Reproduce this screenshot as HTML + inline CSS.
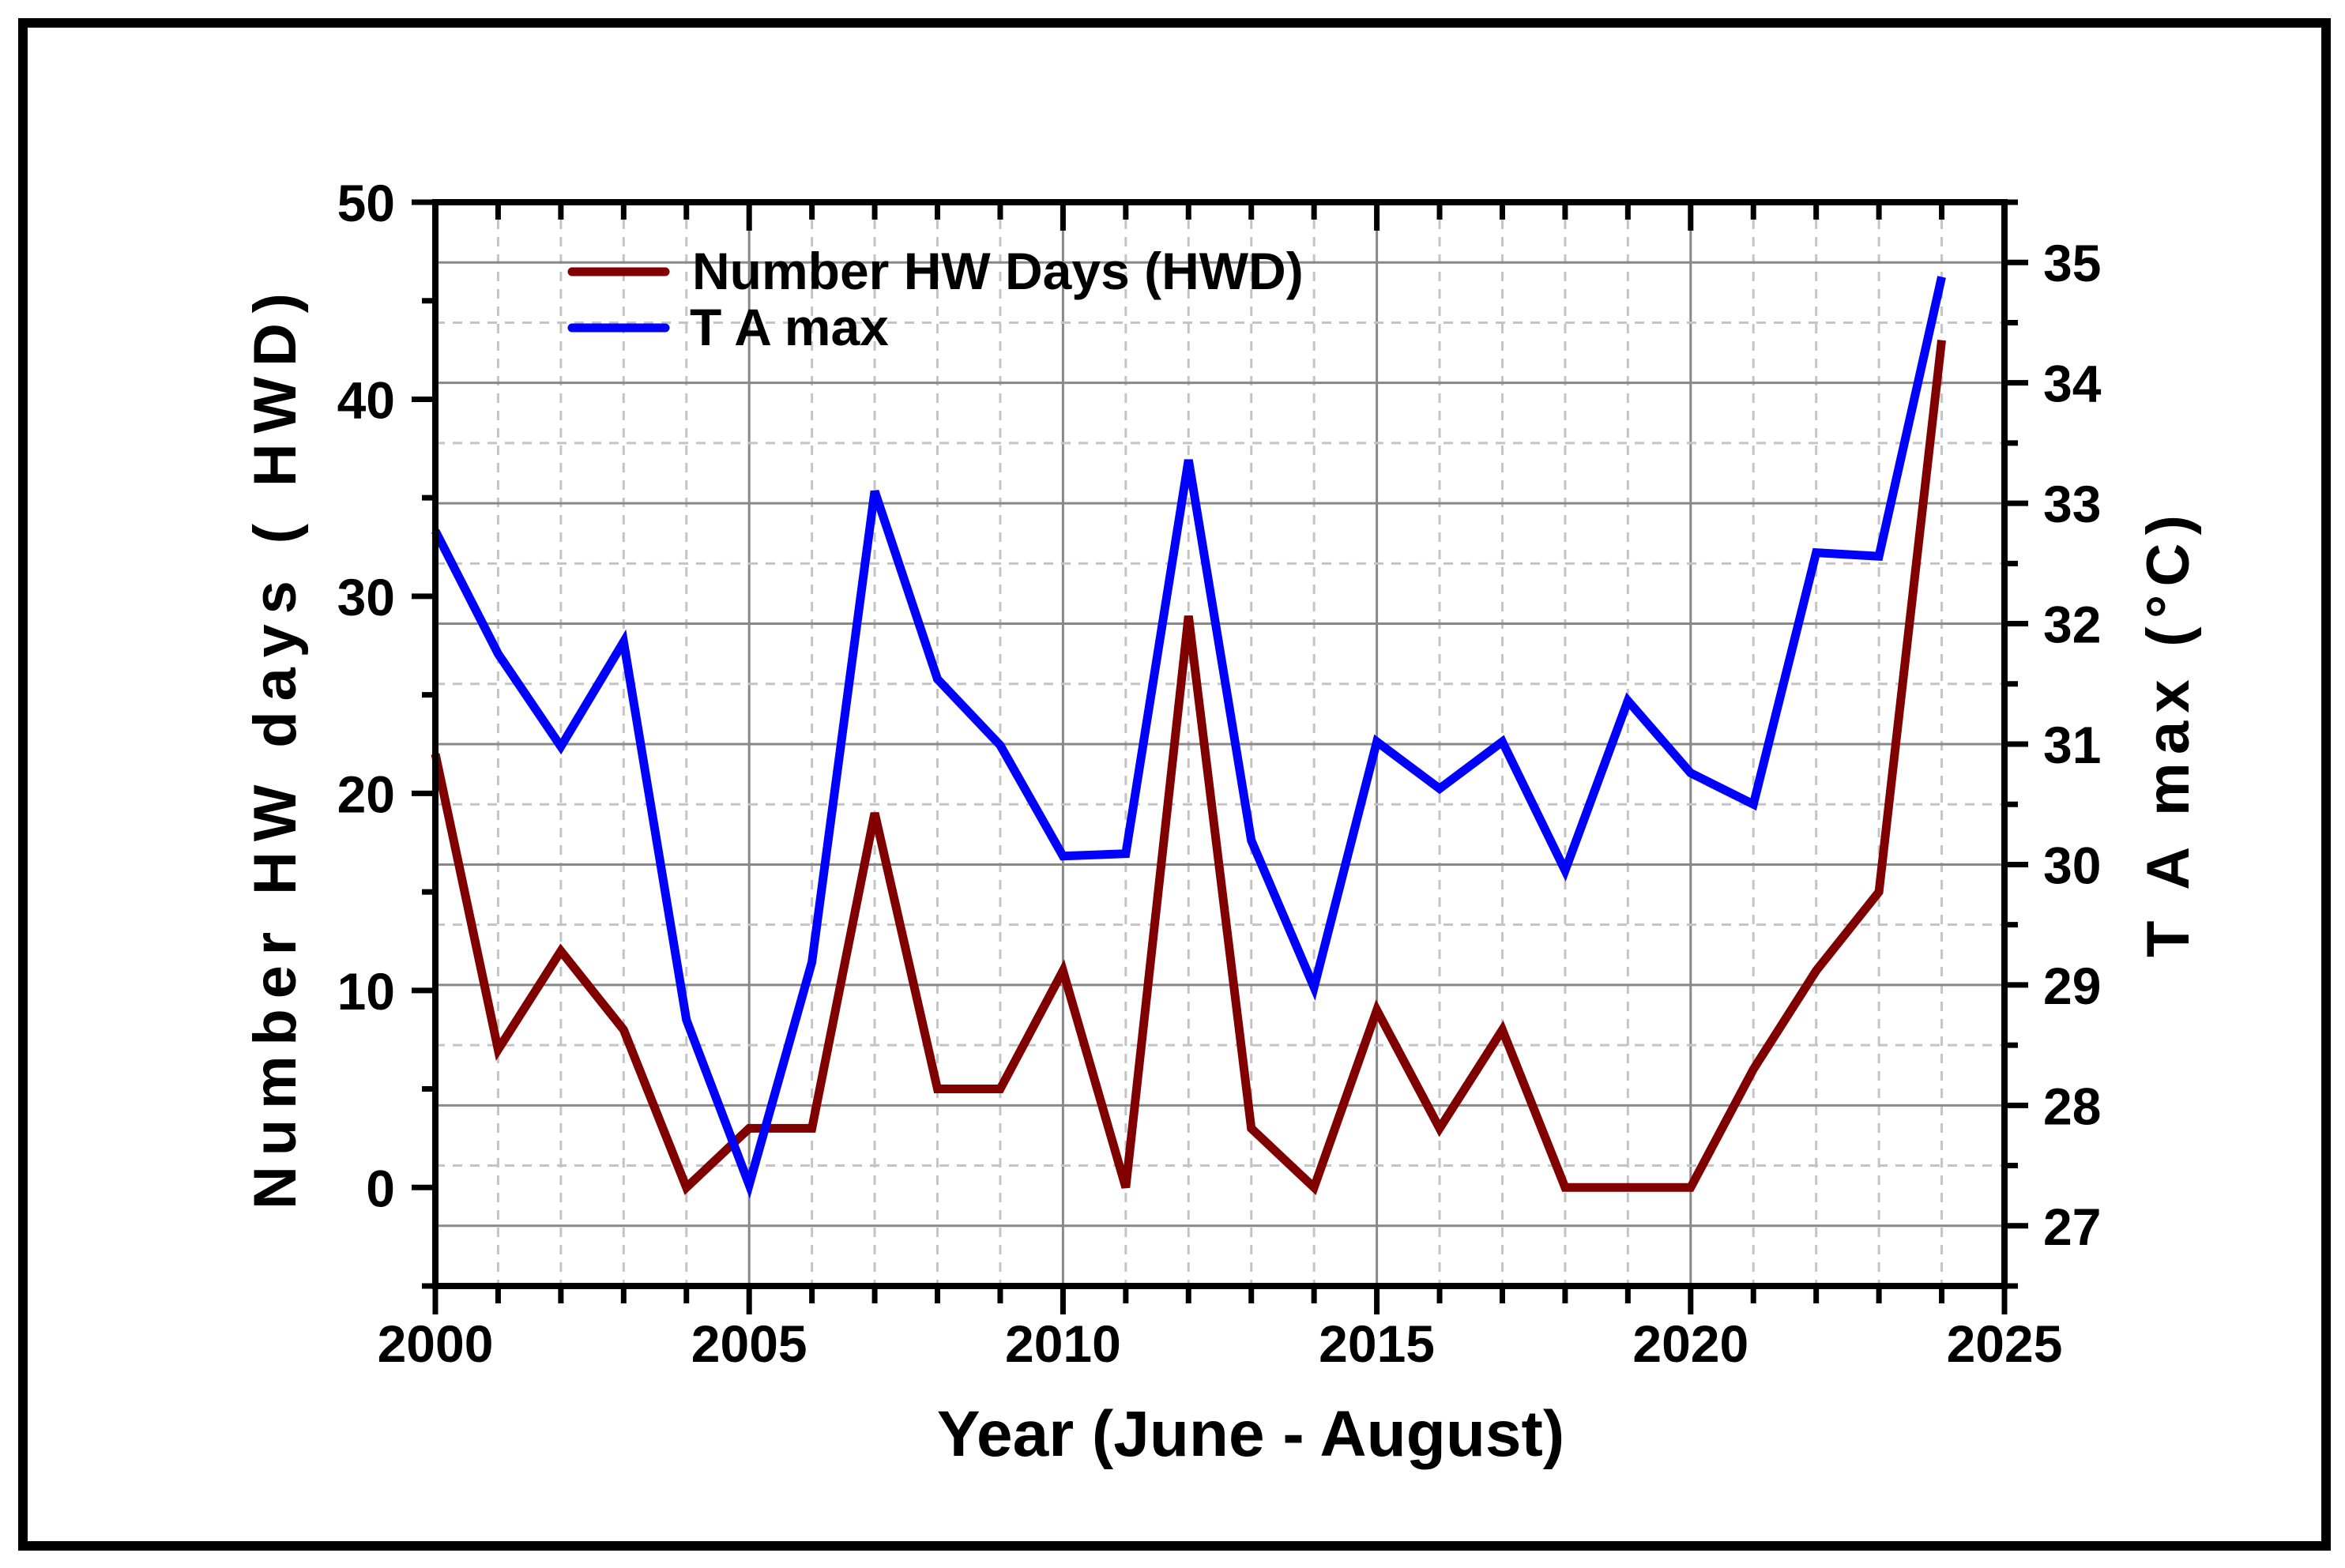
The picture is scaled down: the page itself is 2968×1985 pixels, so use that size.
<!DOCTYPE html>
<html><head><meta charset="utf-8"><style>
html,body{margin:0;padding:0;background:#fff;}
svg{display:block;font-family:"Liberation Sans",Arial,sans-serif;font-weight:bold;}
</style></head><body>
<svg id="chart" width="2968" height="1985" viewBox="0 0 2968 1985" xmlns="http://www.w3.org/2000/svg">
<rect x="29" y="29" width="2915" height="1928" fill="none" stroke="#000" stroke-width="12"/>
<g id="grid"></g>
<g id="series"></g>
<g id="axes"></g>
<g>
  <line x1="724" y1="344" x2="842" y2="344" stroke="#800000" stroke-width="11" stroke-linecap="round"/>
  <text x="876" y="366" font-size="66">Number HW Days (HWD)</text>
  <line x1="724" y1="415" x2="842" y2="415" stroke="#0000ff" stroke-width="11" stroke-linecap="round"/>
  <text x="873" y="437" font-size="66">T A max</text>
</g>
<text x="1583" y="1843" font-size="82" text-anchor="middle">Year (June - August)</text>
<text transform="translate(374,951) rotate(-90)" font-size="76" text-anchor="middle" textLength="1160" lengthAdjust="spacing">Number  HW days ( HWD)</text>
<text transform="translate(2770,932) rotate(-90)" font-size="76" text-anchor="middle" textLength="560" lengthAdjust="spacing">T A max (°C)</text>
</svg>
<script>
const years=[2000,2001,2002,2003,2004,2005,2006,2007,2008,2009,2010,2011,2012,2013,2014,2015,2016,2017,2018,2019,2020,2021,2022,2023,2024];
const hwd=[22,7,12,8,0,3,3,19,5,5,11,0,29,3,0,9,3,8,0,0,0,6,11,15,43];
const tamax=[32.77,31.75,30.98,31.85,28.71,27.34,29.19,33.10,31.54,30.99,30.07,30.09,33.36,30.20,28.98,31.02,30.63,31.02,29.95,31.36,30.76,30.50,32.59,32.56,34.88];
const xTicks=[2000,2005,2010,2015,2020,2025];
const leftTicks=[0,10,20,30,40,50];
const rightTicks=[27,28,29,30,31,32,33,34,35];

const L=551,R=2537,T=256,B=1628;
const xMin=2000,xMax=2025,lMin=-5,lMax=50,rMin=26.5,rMax=35.5;
const sx=v=>L+(v-xMin)/(xMax-xMin)*(R-L);
const syL=v=>B-(v-lMin)/(lMax-lMin)*(B-T);
const syR=v=>B-(v-rMin)/(rMax-rMin)*(B-T);
const NS='http://www.w3.org/2000/svg';
function mk(parent,tag,attrs,txt){const e=document.createElementNS(NS,tag);for(const k in attrs)e.setAttribute(k,attrs[k]);if(txt!==undefined)e.textContent=txt;parent.appendChild(e);return e;}
const grid=document.getElementById('grid'),axes=document.getElementById('axes'),series=document.getElementById('series');

for(let y=xMin+1;y<xMax;y++){
  const major=(y%5===0);
  const g=mk(grid,'line',{x1:sx(y),x2:sx(y),y1:T,y2:B,stroke:major?'#888':'#c4c4c4','stroke-width':3,'stroke-dasharray':major?'none':'12,10'});
  
  
}
for(let v=rMin+0.5;v<rMax;v+=0.5){
  const major=Math.abs(v-Math.round(v))<1e-6;
  const g=mk(grid,'line',{x1:L,x2:R,y1:syR(v),y2:syR(v),stroke:major?'#888':'#c4c4c4','stroke-width':3,'stroke-dasharray':major?'none':'12,10'});
  
  
}
const p1=mk(series,'polyline',{points:years.map((y,i)=>sx(y)+','+syL(hwd[i])).join(' '),fill:'none',stroke:'#800000','stroke-width':11,'stroke-linejoin':'miter'});


const p2=mk(series,'polyline',{points:years.map((y,i)=>sx(y)+','+syR(tamax[i])).join(' '),fill:'none',stroke:'#0000ff','stroke-width':11,'stroke-linejoin':'miter'});



const fr=mk(axes,'rect',{x:L,y:T,width:R-L,height:B-T,fill:'none',stroke:'#000','stroke-width':8});


for(let y=xMin;y<=xMax;y++){
  const major=(y%5===0);
  const t1=mk(axes,'line',{x1:sx(y),x2:sx(y),y1:B,y2:B+(major?36:22),stroke:'#000','stroke-width':7});
  
  
  const t2=mk(axes,'line',{x1:sx(y),x2:sx(y),y1:T,y2:T+(major?36:22),stroke:'#000','stroke-width':7});
  
  
}
xTicks.forEach(v=>{
  const t=mk(axes,'text',{x:sx(v),y:1724,'font-size':66,'text-anchor':'middle'},String(v));
  
  
});
for(let v=lMin;v<=lMax;v+=5){
  const major=(v%10===0);
  const t=mk(axes,'line',{x1:L-(major?30:17),x2:L,y1:syL(v),y2:syL(v),stroke:'#000','stroke-width':7});
  
  
}
leftTicks.forEach(v=>{
  const t=mk(axes,'text',{x:500,y:syL(v)+24,'font-size':66,'text-anchor':'end'},String(v));
  
  
});
for(let v=rMin;v<=rMax+1e-6;v+=0.5){
  const major=Math.abs(v-Math.round(v))<1e-6;
  const t=mk(axes,'line',{x1:R,x2:R+(major?30:17),y1:syR(v),y2:syR(v),stroke:'#000','stroke-width':7});
  
  
}
rightTicks.forEach(v=>{
  const t=mk(axes,'text',{x:2586,y:syR(v)+24,'font-size':66,'text-anchor':'start'},String(v));
  
  
});
</script>
</body></html>
